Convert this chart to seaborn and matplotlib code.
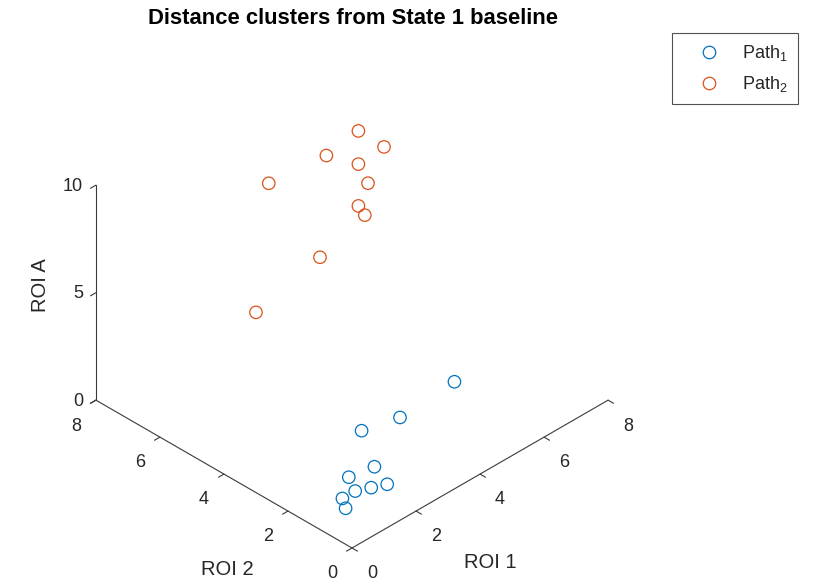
import numpy as np
import pandas as pd
import matplotlib
matplotlib.use("Agg")
import matplotlib.pyplot as plt
import seaborn as sns
from matplotlib.lines import Line2D
from mpl_toolkits.mplot3d import proj3d

# ROI distances for each path
path1_roi1 = [5.4, 3.7, 2.8, 2.2, 1.4, 1.3, 1.7, 2.1, 0.9, 0.8]
path1_roi2 = [2.2, 2.2, 2.5, 1.5, 1.5, 1.2, 1.1, 1.0, 1.2, 1.0]
path1_roiA = [1.2, 1.0, 0.9, 0.6, 0.8, 0.5, 0.4, 0.3, 0.5, 0.3]

path2_roi1 = [5.8, 6.0, 5.1, 5.6, 3.1, 5.7, 5.4, 5.6, 4.4, 2.2]
path2_roi2 = [5.6, 5.0, 5.9, 5.4, 5.7, 5.2, 5.2, 5.2, 5.4, 5.2]
path2_roiA = [9.6, 9.2, 8.8, 8.4, 9.4, 7.6, 6.8, 6.2, 5.1, 4.6]

path_labels = ["Path$_1$", "Path$_2$"]
path_colors = ["#0072BD", "#D95319"]

roi1_ticks = [0, 2, 4, 6, 8]
roi2_ticks = [0, 2, 4, 6, 8]
roiA_ticks = [0, 5, 10]

df = pd.concat([
    pd.DataFrame({"roi1": path1_roi1, "roi2": path1_roi2, "roiA": path1_roiA, "path": path_labels[0]}),
    pd.DataFrame({"roi1": path2_roi1, "roi2": path2_roi2, "roiA": path2_roiA, "path": path_labels[1]}),
])

sns.set_theme(style="white")
plt.rcParams["font.family"] = ["Liberation Sans", "DejaVu Sans"]
plt.rcParams["mathtext.fontset"] = "custom"
plt.rcParams["mathtext.rm"] = "Liberation Sans"
plt.rcParams["mathtext.it"] = "Liberation Sans:italic"
plt.rcParams["mathtext.default"] = "regular"

W, H = 813, 580
fig = plt.figure(figsize=(W / 100, H / 100), dpi=100)
ax = fig.add_axes([0.05, 0.02, 0.9, 0.9], projection="3d", proj_type="ortho")
ax.view_init(elev=35.26, azim=-135)
ax.set_xlim(0, 8)
ax.set_ylim(0, 8)
ax.set_zlim(0, 10)
ax.set_box_aspect((1, 1, 0.727))
ax.set_axis_off()

for lab, col in zip(path_labels, path_colors):
    d = df[df["path"] == lab]
    ax.scatter(d["roi1"], d["roi2"], d["roiA"], s=80, facecolors="none",
               edgecolors=col, linewidths=0.9, depthshade=False)

axc = "#3a3a3a"
txc = "#262626"
tk = 0.17
fs = 13
lfs = 14.5
# ROI 1 axis along the front-right edge
ax.plot([0, 8], [0, 0], [0, 0], color=axc, lw=0.8)
for t in roi1_ticks:
    ax.plot([t, t], [0, -tk], [0, 0], color=axc, lw=0.8)
    ax.text(t, -0.62, -0.67, f"{t}", ha="center", va="center", fontsize=fs, color=txc)
# ROI 2 axis along the front-left edge
ax.plot([0, 0], [0, 8], [0, 0], color=axc, lw=0.8)
for t in roi2_ticks:
    ax.plot([0, -tk], [t, t], [0, 0], color=axc, lw=0.8)
    ax.text(-0.62, t, -0.67, f"{t}", ha="center", va="center", fontsize=fs, color=txc)
# ROI A axis at the back-left corner
ax.plot([0, 0], [8, 8], [0, 10], color=axc, lw=0.8)
for t in roiA_ticks:
    ax.plot([0, -tk], [8, 8], [t, t], color=axc, lw=0.8)
    ax.text(-0.4, 8, t + 0.3, f"{t}", ha="right", va="center", fontsize=fs, color=txc)

ax.text(4.31, 0, -4.36, "ROI 1", ha="center", va="center", fontsize=lfs, color=txc)
ax.text(0, 3.9, -4.36, "ROI 2", ha="center", va="center", fontsize=lfs, color=txc)
ax.text(-1.72, 8, 6.82, "ROI A", zdir="z", ha="center", va="center", fontsize=lfs,
        color=txc)


def to_px(x, y, z):
    X, Y, _ = proj3d.proj_transform(x, y, z, ax.get_proj())
    return np.asarray(ax.transData.transform((X, Y)))


# place the box so the origin and the ROI 1 end sit at fixed pixel spots
anchor_o = np.array([352.0, H - 548.0])
anchor_e = np.array([608.0, H - 400.0])
for _ in range(4):
    fig.canvas.draw()
    o = to_px(0, 0, 0)
    e = to_px(8, 0, 0)
    f = np.linalg.norm(anchor_e - anchor_o) / np.linalg.norm(e - o)
    bb = ax.get_position(original=True)
    c = np.array([(bb.x0 + bb.width / 2) * W, (bb.y0 + bb.height / 2) * H])
    c_new = anchor_o - f * (o - c)
    w_new, h_new = bb.width * f, bb.height * f
    ax.set_position([c_new[0] / W - w_new / 2, c_new[1] / H - h_new / 2, w_new, h_new])

fig.text(353 / W, 1 - 18.5 / H, "Distance clusters from State 1 baseline",
         ha="center", va="center", fontsize=15.8, fontweight="bold", color="black")

handles = [Line2D([], [], marker="o", linestyle="none", markersize=9,
                  markerfacecolor="none", markeredgecolor=c, markeredgewidth=0.9)
           for c in path_colors]
leg = fig.legend(handles, path_labels, loc="upper left",
                 bbox_to_anchor=(672 / W, 1 - 33 / H), borderaxespad=0,
                 frameon=True, fancybox=False, fontsize=13, borderpad=0.55,
                 handletextpad=0.4, labelspacing=0.62, handlelength=2.95,
                 edgecolor=txc)
leg.get_frame().set_linewidth(0.8)
for txt in leg.get_texts():
    txt.set_color(txc)

fig.savefig("out.png", dpi=100)
